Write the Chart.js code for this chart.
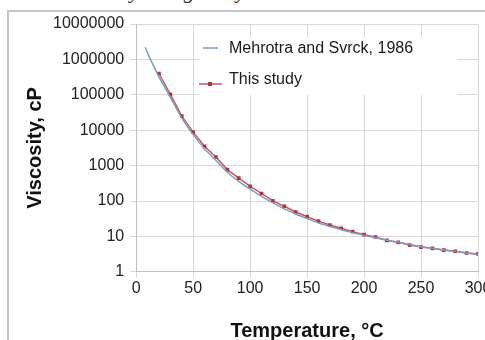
<!DOCTYPE html>
<html>
<head>
<meta charset="utf-8">
<script src="https://cdn.jsdelivr.net/npm/chart.js@4.4.0/dist/chart.umd.min.js"></script>
<style>
body{margin:0;background:#fff;width:485px;height:340px;overflow:hidden;position:relative}
#frame{position:absolute;left:7px;top:10px;width:540px;height:400px;border-left:2px solid #c6c6c6;border-top:2px solid #c6c6c6}
#cap{position:absolute;left:0;top:0;width:485px;height:9px;overflow:hidden}
#cap span{position:absolute;left:62px;top:-22px;font:italic 22px "Liberation Serif",serif;color:#333;white-space:nowrap}
#wrap{position:absolute;left:0;top:0;width:500px;height:345px}
</style>
</head>
<body>
<div id="cap"><span>Viscosity and gravity</span></div>
<div id="frame"></div>
<div id="wrap"><canvas id="myChart"></canvas></div>
<script>
// Mehrotra and Svrck, 1986 (smooth line)
var mehTemps = [8, 10, 20, 30, 40, 50, 60, 70, 80, 90, 100, 110, 120, 130, 140, 150, 160, 170, 180, 190, 200, 210, 220, 230, 240, 250, 260, 270, 280, 290, 300];
var mehVisc = [2200000, 1500000, 320000, 85000, 22000, 7500, 3000, 1400, 650, 360, 215, 135, 88, 60, 43, 32, 24, 19, 15.5, 12.8, 10.7, 9.2, 7.8, 6.8, 5.9, 5.1, 4.6, 4.1, 3.8, 3.4, 3.1];
// This study (markers)
var studyTemps = [20, 30, 40, 50, 60, 70, 80, 90, 100, 110, 120, 130, 140, 150, 160, 170, 180, 190, 200, 210, 220, 230, 240, 250, 260, 270, 280, 290, 300];
var studyVisc = [400000, 103000, 25000, 8800, 3500, 1750, 770, 445, 260, 163, 101, 71, 49, 36, 27, 21, 17, 13.6, 11.2, 9.6, 7.7, 6.8, 5.7, 5.0, 4.6, 4.1, 3.8, 3.4, 3.2];
var yTicks = [1, 10, 100, 1000, 10000, 100000, 1000000, 10000000];
var xTicks = [0, 50, 100, 150, 200, 250, 300];

function toPoints(xs, ys) {
  var arr = [];
  for (var i = 0; i < xs.length; i++) {
    arr.push({x: xs[i], y: ys[i]});
  }
  return arr;
}

// legend drawn inside the plot, white box over the grid
var insideLegend = {
  id: 'insideLegend',
  afterDraw: function(chart) {
    var ctx = chart.ctx;
    var ds = chart.data.datasets;
    ctx.save();
    ctx.fillStyle = '#fff';
    ctx.fillRect(200, 37, 257, 58);
    ctx.font = '16px "Liberation Sans", Arial, sans-serif';
    ctx.textBaseline = 'middle';
    ctx.fillStyle = '#1a1a1a';
    // first entry
    ctx.strokeStyle = ds[0].borderColor;
    ctx.lineWidth = 1.5;
    ctx.beginPath(); ctx.moveTo(203, 48); ctx.lineTo(218, 48); ctx.stroke();
    ctx.fillText(ds[0].label, 229, 49);
    // second entry
    ctx.strokeStyle = ds[1].borderColor;
    ctx.beginPath(); ctx.moveTo(199, 84); ctx.lineTo(222, 84); ctx.stroke();
    ctx.fillStyle = ds[1].pointBackgroundColor;
    ctx.fillRect(208, 82, 4, 4);
    ctx.fillStyle = '#1a1a1a';
    ctx.fillText(ds[1].label, 229, 80);
    ctx.restore();
  }
};

Chart.defaults.font.family = '"Liberation Sans", Arial, sans-serif';
var ctx = document.getElementById('myChart').getContext('2d');
var viscgraph = new Chart(ctx, {
  type: 'line',
  data: {
    datasets: [{
      label: 'Mehrotra and Svrck, 1986',
      data: toPoints(mehTemps, mehVisc),
      borderColor: '#7e9cc0',
      borderWidth: 1.5,
      pointRadius: 0,
      tension: 0.3
    }, {
      label: 'This study',
      data: toPoints(studyTemps, studyVisc),
      borderColor: '#c25a5c',
      borderWidth: 1.5,
      pointStyle: 'rect',
      pointRadius: 2.6,
      pointBackgroundColor: '#b0343a',
      pointBorderColor: '#b0343a',
      pointBorderWidth: 0,
      tension: 0
    }]
  },
  options: {
    responsive: true,
    maintainAspectRatio: false,
    animation: false,
    layout: {padding: {left: 23, right: 22, top: 24, bottom: 2}},
    plugins: {legend: {display: false}, tooltip: {enabled: false}},
    scales: {
      x: {
        type: 'linear',
        min: 0,
        max: 300,
        afterBuildTicks: function(scale) {
          scale.ticks = xTicks.map(function(v) { return {value: v}; });
        },
        ticks: {font: {size: 16}, color: '#222', padding: 1, maxRotation: 0},
        grid: {color: '#d9d9d9', tickLength: 6},
        border: {color: '#c0c0c0'},
        title: {display: true, text: 'Temperature, °C', color: '#111', font: {size: 20, weight: 'bold'}, padding: {top: 20, bottom: 0}}
      },
      y: {
        type: 'logarithmic',
        min: 1,
        max: 10000000,
        afterBuildTicks: function(scale) {
          scale.ticks = yTicks.map(function(v) { return {value: v}; });
        },
        ticks: {
          font: {size: 16}, color: '#222', padding: 6,
          callback: function(v) { return String(v); }
        },
        grid: {color: '#d9d9d9', tickLength: 6},
        border: {color: '#c0c0c0'},
        title: {display: true, text: 'Viscosity, cP', color: '#111', font: {size: 20, weight: 'bold'}, padding: {top: 0, bottom: 0}}
      }
    }
  },
  plugins: [insideLegend]
});
</script>
</body>
</html>
